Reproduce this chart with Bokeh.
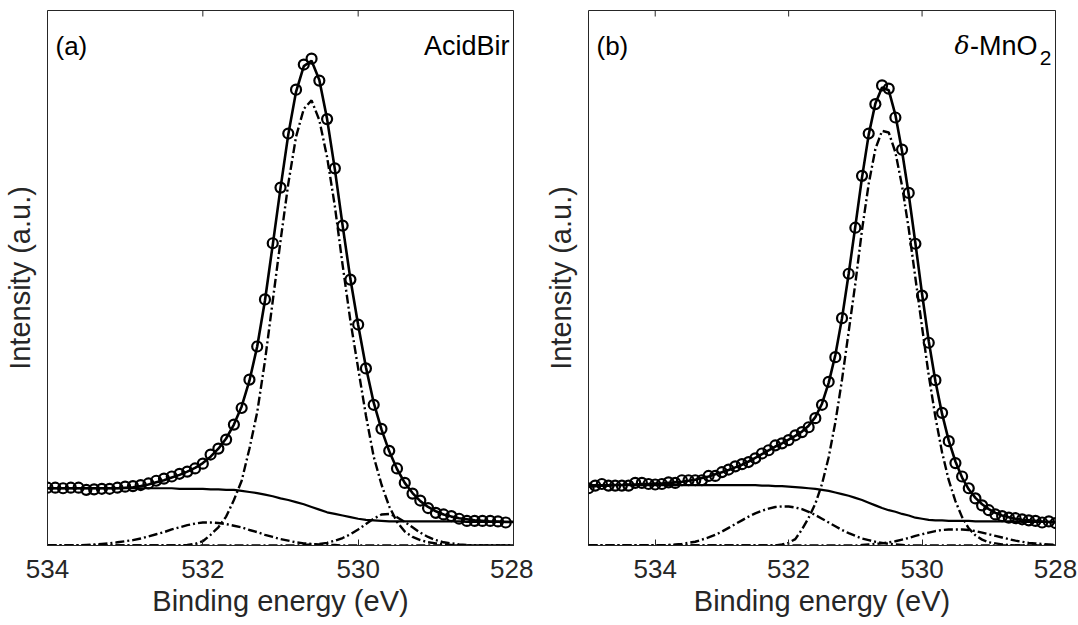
import math
from bokeh.plotting import figure
from bokeh.layouts import row
from bokeh.models import Range1d, FixedTicker, Label
from bokeh.embed import file_html
from bokeh.resources import INLINE

# ---------------- panel (a): AcidBir ----------------
energy_a = [534.0, 533.9, 533.8, 533.7, 533.6, 533.5, 533.4, 533.3, 533.2, 533.1,
            533.0, 532.9, 532.8, 532.7, 532.6, 532.5, 532.4, 532.3, 532.2, 532.1,
            532.0, 531.9, 531.8, 531.7, 531.6, 531.5, 531.4, 531.3, 531.2, 531.1,
            531.0, 530.9, 530.8, 530.7, 530.6, 530.5, 530.4, 530.3, 530.2, 530.1,
            530.0, 529.9, 529.8, 529.7, 529.6, 529.5, 529.4, 529.3, 529.2, 529.1,
            529.0, 528.9, 528.8, 528.7, 528.6, 528.5, 528.4, 528.3, 528.2, 528.1,
            528.0]
measured_a = [0.108, 0.108, 0.107, 0.108, 0.108, 0.104, 0.105, 0.106, 0.106, 0.108,
              0.110, 0.111, 0.113, 0.116, 0.121, 0.125, 0.129, 0.134, 0.138, 0.144,
              0.153, 0.170, 0.181, 0.198, 0.226, 0.257, 0.310, 0.372, 0.460, 0.565,
              0.669, 0.770, 0.852, 0.899, 0.910, 0.869, 0.797, 0.705, 0.598, 0.497,
              0.413, 0.331, 0.263, 0.218, 0.177, 0.144, 0.117, 0.097, 0.084, 0.070,
              0.061, 0.058, 0.055, 0.050, 0.046, 0.046, 0.046, 0.046, 0.045, 0.043]
fit_a = [0.107, 0.107, 0.107, 0.107, 0.107, 0.107, 0.107, 0.107, 0.107, 0.107,
         0.108, 0.109, 0.111, 0.114, 0.118, 0.122, 0.127, 0.132, 0.138, 0.145,
         0.154, 0.166, 0.181, 0.200, 0.226, 0.260, 0.308, 0.372, 0.458, 0.562,
         0.668, 0.768, 0.848, 0.896, 0.906, 0.870, 0.797, 0.703, 0.598, 0.498,
         0.412, 0.333, 0.267, 0.217, 0.176, 0.143, 0.117, 0.098, 0.083, 0.072,
         0.064, 0.058, 0.054, 0.051, 0.049, 0.047, 0.046, 0.045, 0.045, 0.044,
         0.044]
background_a = [0.107, 0.107, 0.107, 0.107, 0.107, 0.107, 0.107, 0.107, 0.107, 0.107,
                0.107, 0.107, 0.107, 0.107, 0.107, 0.107, 0.107, 0.106, 0.106, 0.106,
                0.106, 0.105, 0.105, 0.104, 0.104, 0.102, 0.100, 0.098, 0.095, 0.092,
                0.088, 0.085, 0.081, 0.077, 0.072, 0.067, 0.062, 0.059, 0.056, 0.053,
                0.050, 0.048, 0.047, 0.046, 0.045, 0.045, 0.045, 0.045, 0.045, 0.045,
                0.045, 0.045, 0.045, 0.045, 0.044, 0.044, 0.044, 0.044, 0.044, 0.044,
                0.044]
peak_main_a = [0, 0, 0, 0, 0, 0, 0, 0, 0, 0,
               0, 0, 0, 0, 0, 0, 0, 0.000, 0.001, 0.003,
               0.008, 0.020, 0.034, 0.054, 0.085, 0.121, 0.181, 0.249, 0.345, 0.457,
               0.569, 0.676, 0.764, 0.816, 0.832, 0.795, 0.726, 0.634, 0.524, 0.420,
               0.331, 0.243, 0.166, 0.114, 0.073, 0.044, 0.026, 0.016, 0.010, 0.006,
               0.004, 0.002, 0.001, 0, 0, 0, 0, 0, 0, 0,
               0]
peak_high_a = [0, 0, 0, 0, 0, 0.001, 0.002, 0.003, 0.004, 0.006,
               0.008, 0.010, 0.013, 0.017, 0.021, 0.025, 0.030, 0.034, 0.038, 0.041,
               0.043, 0.043, 0.042, 0.040, 0.037, 0.034, 0.029, 0.025, 0.020, 0.016,
               0.012, 0.009, 0.006, 0.004, 0.003, 0.002, 0.001, 0.001, 0, 0,
               0, 0, 0, 0, 0, 0, 0, 0, 0, 0,
               0, 0, 0, 0, 0, 0, 0, 0, 0, 0,
               0]
peak_low_a = [0, 0, 0, 0, 0, 0, 0, 0, 0, 0,
              0, 0, 0, 0, 0, 0, 0, 0, 0, 0,
              0, 0, 0, 0, 0, 0, 0, 0, 0, 0,
              0, 0, 0, 0.001, 0.002, 0.003, 0.005, 0.009, 0.014, 0.021,
              0.030, 0.040, 0.050, 0.058, 0.059, 0.053, 0.044, 0.034, 0.024, 0.016,
              0.010, 0.006, 0.004, 0.002, 0.001, 0, 0, 0, 0, 0,
              0]

# ---------------- panel (b): delta-MnO2 ----------------
energy_b = [535.0, 534.9, 534.8, 534.7, 534.6, 534.5, 534.4, 534.3, 534.2, 534.1,
            534.0, 533.9, 533.8, 533.7, 533.6, 533.5, 533.4, 533.3, 533.2, 533.1,
            533.0, 532.9, 532.8, 532.7, 532.6, 532.5, 532.4, 532.3, 532.2, 532.1,
            532.0, 531.9, 531.8, 531.7, 531.6, 531.5, 531.4, 531.3, 531.2, 531.1,
            531.0, 530.9, 530.8, 530.7, 530.6, 530.5, 530.4, 530.3, 530.2, 530.1,
            530.0, 529.9, 529.8, 529.7, 529.6, 529.5, 529.4, 529.3, 529.2, 529.1,
            529.0, 528.9, 528.8, 528.7, 528.6, 528.5, 528.4, 528.3, 528.2, 528.1,
            528.0]
measured_b = [0.107, 0.112, 0.115, 0.112, 0.112, 0.112, 0.112, 0.117, 0.117, 0.115,
              0.114, 0.115, 0.118, 0.117, 0.122, 0.122, 0.122, 0.122, 0.130, 0.130,
              0.137, 0.142, 0.148, 0.152, 0.156, 0.163, 0.172, 0.178, 0.187, 0.191,
              0.197, 0.206, 0.212, 0.221, 0.238, 0.263, 0.306, 0.352, 0.425, 0.508,
              0.594, 0.691, 0.770, 0.825, 0.860, 0.854, 0.800, 0.740, 0.659, 0.564,
              0.467, 0.379, 0.309, 0.248, 0.195, 0.154, 0.129, 0.107, 0.088, 0.075,
              0.066, 0.058, 0.055, 0.052, 0.051, 0.049, 0.047, 0.046, 0.043, 0.045,
              0.042]
fit_b = [0.110, 0.111, 0.112, 0.112, 0.113, 0.113, 0.114, 0.114, 0.115, 0.115,
         0.116, 0.116, 0.117, 0.118, 0.119, 0.121, 0.123, 0.126, 0.129, 0.133,
         0.137, 0.141, 0.146, 0.151, 0.157, 0.164, 0.171, 0.178, 0.185, 0.191,
         0.198, 0.205, 0.213, 0.224, 0.240, 0.265, 0.304, 0.356, 0.425, 0.508,
         0.597, 0.688, 0.768, 0.826, 0.856, 0.851, 0.805, 0.737, 0.656, 0.565,
         0.470, 0.382, 0.307, 0.246, 0.196, 0.157, 0.127, 0.105, 0.089, 0.077,
         0.068, 0.061, 0.056, 0.053, 0.050, 0.048, 0.047, 0.046, 0.045, 0.044,
         0.043]
background_b = [0.113, 0.113, 0.113, 0.113, 0.113, 0.113, 0.113, 0.113, 0.113, 0.113,
                0.113, 0.113, 0.113, 0.113, 0.113, 0.113, 0.113, 0.113, 0.113, 0.113,
                0.113, 0.113, 0.113, 0.113, 0.113, 0.113, 0.112, 0.112, 0.111, 0.111,
                0.110, 0.109, 0.108, 0.107, 0.106, 0.104, 0.102, 0.099, 0.096, 0.093,
                0.089, 0.085, 0.080, 0.075, 0.070, 0.066, 0.063, 0.059, 0.056, 0.052,
                0.050, 0.048, 0.047, 0.047, 0.046, 0.046, 0.046, 0.046, 0.045, 0.045,
                0.045, 0.045, 0.045, 0.045, 0.045, 0.044, 0.044, 0.044, 0.044, 0.044,
                0.044]
peak_main_b = [0, 0, 0, 0, 0, 0, 0, 0, 0, 0,
               0, 0, 0, 0, 0, 0, 0, 0, 0, 0,
               0, 0, 0, 0, 0, 0, 0, 0, 0.000, 0.002,
               0.005, 0.012, 0.030, 0.052, 0.078, 0.115, 0.165, 0.230, 0.310, 0.400,
               0.490, 0.590, 0.676, 0.741, 0.775, 0.772, 0.735, 0.672, 0.592, 0.500,
               0.408, 0.318, 0.240, 0.174, 0.122, 0.083, 0.053, 0.032, 0.019, 0.011,
               0.006, 0.004, 0.002, 0.001, 0, 0, 0, 0, 0, 0,
               0]
peak_high_b = [0, 0, 0, 0, 0, 0, 0, 0, 0, 0,
               0, 0, 0.001, 0.002, 0.003, 0.005, 0.007, 0.011, 0.015, 0.020,
               0.026, 0.033, 0.040, 0.047, 0.054, 0.060, 0.065, 0.069, 0.072, 0.073,
               0.073, 0.071, 0.068, 0.063, 0.057, 0.050, 0.043, 0.036, 0.029, 0.023,
               0.018, 0.013, 0.010, 0.007, 0.005, 0.003, 0.002, 0.001, 0, 0,
               0, 0, 0, 0, 0, 0, 0, 0, 0, 0,
               0, 0, 0, 0, 0, 0, 0, 0, 0, 0,
               0]
peak_low_b = [0, 0, 0, 0, 0, 0, 0, 0, 0, 0,
              0, 0, 0, 0, 0, 0, 0, 0, 0, 0,
              0, 0, 0, 0, 0, 0, 0, 0, 0, 0,
              0, 0, 0, 0, 0, 0, 0, 0, 0, 0,
              0.000, 0.001, 0.002, 0.003, 0.004, 0.006, 0.008, 0.011, 0.014, 0.018,
              0.021, 0.024, 0.027, 0.029, 0.030, 0.030, 0.030, 0.029, 0.027, 0.024,
              0.021, 0.018, 0.015, 0.012, 0.009, 0.007, 0.005, 0.004, 0.003, 0.002,
              0.001]

tick_values = [534, 532, 530, 528]
x_label = "Binding energy (eV)"
y_label = "Intensity (a.u.)"

INK = "#262626"
FONT = "Liberation Sans"
DASHDOT = "9 3 2 3"
Y_TOP = 1.0


def make_panel(energy, measured, fit, background, comps, x_start, x_end,
               width, border_left, border_right):
    p = figure(width=width, height=625, output_backend="svg", toolbar_location=None,
               x_range=Range1d(x_start, x_end), y_range=Range1d(0, Y_TOP),
               min_border_left=border_left, min_border_right=border_right,
               min_border_top=10, min_border_bottom=80,
               background_fill_color="white", border_fill_color="white")
    p.xgrid.visible = False
    p.ygrid.visible = False
    p.outline_line_color = INK
    p.outline_line_width = 1

    # bottom axis
    xa = p.xaxis[0]
    xa.ticker = FixedTicker(ticks=tick_values)
    xa.major_tick_in = 6
    xa.major_tick_out = 0
    xa.minor_tick_line_color = None
    xa.axis_line_color = INK
    xa.major_tick_line_color = INK
    xa.major_label_text_font = FONT
    xa.major_label_text_font_size = "26px"
    xa.major_label_text_color = INK
    xa.major_label_standoff = 14
    xa.axis_label = x_label
    xa.axis_label_text_font = FONT
    xa.axis_label_text_font_size = "29px"
    xa.axis_label_text_font_style = "normal"
    xa.axis_label_text_color = INK
    xa.axis_label_standoff = 4

    # left axis (label only)
    ya = p.yaxis[0]
    ya.ticker = FixedTicker(ticks=[])
    ya.major_tick_in = 0
    ya.major_tick_out = 0
    ya.minor_tick_line_color = None
    ya.major_label_standoff = 0
    ya.axis_line_color = None
    ya.axis_label = y_label
    ya.axis_label_text_font = FONT
    ya.axis_label_text_font_size = "29px"
    ya.axis_label_text_font_style = "normal"
    ya.axis_label_text_color = INK
    ya.axis_label_standoff = 12

    # inward tick marks along the top edge (mirror of bottom ticks)
    p.scatter(tick_values, [Y_TOP] * len(tick_values), marker="dash",
              angle=math.pi / 2, size=12, line_color=INK, line_width=1)

    for c in comps:
        p.line(energy, c, line_color="black", line_width=2.4, line_dash=DASHDOT)
    p.line(energy, background, line_color="black", line_width=2.2)
    p.line(energy, fit, line_color="black", line_width=2.6)
    p.scatter(energy[:len(measured)], measured, marker="circle", size=10,
              line_color="black", line_width=2.2, fill_color=None)
    return p


pa = make_panel(energy_a, measured_a, fit_a, background_a,
                [peak_main_a, peak_high_a, peak_low_a], 534, 528,
                533, 46, 20)
pa.add_layout(Label(x=534, y=Y_TOP, x_offset=8, y_offset=-35, text="(a)",
                    text_font=FONT, text_font_size="26px", text_color="black",
                    text_align="left", text_baseline="alphabetic"))
pa.add_layout(Label(x=528, y=Y_TOP, x_offset=-4, y_offset=-35, text="AcidBir",
                    text_font=FONT, text_font_size="27px", text_color="black",
                    text_align="right", text_baseline="alphabetic"))

pb = make_panel(energy_b, measured_b, fit_b, background_b,
                [peak_main_b, peak_high_b, peak_low_b], 535, 528,
                545, 55, 23)
pb.add_layout(Label(x=535, y=Y_TOP, x_offset=8, y_offset=-35, text="(b)",
                    text_font=FONT, text_font_size="26px", text_color="black",
                    text_align="left", text_baseline="alphabetic"))
pb.add_layout(Label(x=528, y=Y_TOP, x_offset=-18, y_offset=-35, text="-MnO",
                    text_font=FONT, text_font_size="27px", text_color="black",
                    text_align="right", text_baseline="alphabetic"))
pb.add_layout(Label(x=528, y=Y_TOP, x_offset=-86, y_offset=-35, text="δ",
                    text_font="DejaVu Serif", text_font_size="25px",
                    text_font_style="italic", text_color="black",
                    text_align="right", text_baseline="alphabetic"))
pb.add_layout(Label(x=528, y=Y_TOP, x_offset=-4, y_offset=-47, text="2",
                    text_font=FONT, text_font_size="21px", text_color="black",
                    text_align="right", text_baseline="alphabetic"))

layout = row(pa, pb)
open("out.html", "w").write(file_html(layout, INLINE))
